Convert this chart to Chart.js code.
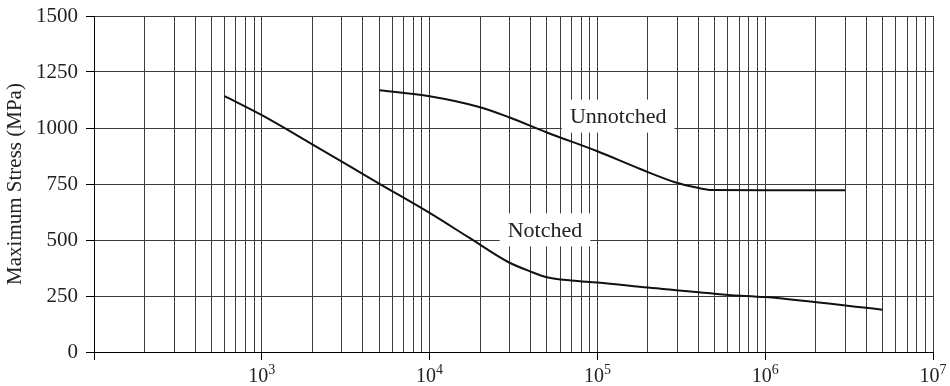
<!DOCTYPE html>
<html>
<head>
<meta charset="utf-8">
<script src="https://cdn.jsdelivr.net/npm/chart.js@4"></script>
<style>
  body { margin: 0; background: #fff; }
  #wrap { width: 950px; height: 386px; }
</style>
</head>
<body>
<div id="wrap"><canvas id="fatigueChart" width="950" height="386"></canvas></div>
<script>
// --- data ---
const notchedCycles = [600, 1000, 2000, 5000, 1e4, 1.74e4, 2.9e4, 4e4, 5e4, 7e4, 1e5, 2e5, 6e5, 1e6, 5e6];
const notchedStress = [1142, 1057, 927, 752, 621, 508, 404, 359, 334, 319, 310, 288, 255, 245, 189];

const unnotchedCycles = [5000, 1e4, 2e4, 3e4, 5e4, 1e5, 1.8e5, 2.9e5, 3.9e5, 4.8e5, 1e6, 3e6];
const unnotchedStress = [1169, 1142, 1093, 1047, 980, 896, 817, 758, 734, 723, 722, 722];

const xDecades = [100, 1000, 1e4, 1e5, 1e6, 1e7];
const xLabelled = [1000, 1e4, 1e5, 1e6, 1e7];

const curveLabels = [
    { text: 'Unnotched', x: 1.33e5, y: 1053 },
    { text: 'Notched', x: 4.87e4, y: 545 }
];

// all log grid lines: 1..9 x 10^n
const xGridValues = [];
for (let d = 0; d < xDecades.length - 1; d++) {
    for (let m = 1; m < 10; m++) xGridValues.push(xDecades[d] * m);
}
xGridValues.push(1e7);

const isDecade = v => xDecades.some(d => Math.abs(d - v) < 1e-6 * d);

const serif = '"Liberation Serif", "DejaVu Serif", serif';
const gridColor = '#3c3c3c';
const textColor = '#222';

// white boxed labels on the curves
const curveLabelPlugin = {
    id: 'curveLabels',
    beforeDatasetsDraw(chart) {
        const c = chart.ctx;
        const xs = chart.scales.x, ys = chart.scales.y;
        c.save();
        c.font = '22px ' + serif;
        c.textAlign = 'center';
        c.textBaseline = 'middle';
        curveLabels.forEach(l => {
            const px = xs.getPixelForValue(l.x);
            const py = ys.getPixelForValue(l.y);
            const w = c.measureText(l.text).width + 16;
            const h = 33;
            c.fillStyle = '#fff';
            c.fillRect(px - w / 2, py - h / 2, w, h);
            c.fillStyle = textColor;
            c.fillText(l.text, px, py + 1);
        });
        c.restore();
    },
    // powers of ten with a raised exponent under the x axis
    afterDraw(chart) {
        const c = chart.ctx;
        const xs = chart.scales.x;
        const base = chart.chartArea.bottom + 30;
        c.save();
        c.fillStyle = textColor;
        c.textBaseline = 'alphabetic';
        c.textAlign = 'left';
        xLabelled.forEach(v => {
            const px = xs.getPixelForValue(v);
            const exp = String(Math.round(Math.log10(v)));
            c.font = '20px ' + serif;
            const w1 = c.measureText('10').width;
            c.font = '14px ' + serif;
            const w2 = c.measureText(exp).width;
            const left = px - (w1 + w2) / 2;
            c.font = '20px ' + serif;
            c.fillText('10', left, base);
            c.font = '14px ' + serif;
            c.fillText(exp, left + w1, base - 8);
        });
        c.restore();
    }
};

const ctx = document.getElementById('fatigueChart').getContext('2d');
const chart = new Chart(ctx, {
    type: 'line',
    data: {
        datasets: [
            {
                label: 'Notched',
                data: notchedCycles.map((x, i) => ({ x, y: notchedStress[i] })),
                borderColor: '#111',
                borderWidth: 2,
                pointRadius: 0,
                cubicInterpolationMode: 'monotone',
                fill: false
            },
            {
                label: 'Unnotched',
                data: unnotchedCycles.map((x, i) => ({ x, y: unnotchedStress[i] })),
                borderColor: '#111',
                borderWidth: 2,
                pointRadius: 0,
                cubicInterpolationMode: 'monotone',
                fill: false
            }
        ]
    },
    options: {
        responsive: false,
        animation: false,
        devicePixelRatio: 1,
        layout: { padding: { top: 16, right: 17, left: 0, bottom: 0 } },
        plugins: {
            legend: { display: false },
            tooltip: { enabled: false }
        },
        scales: {
            x: {
                type: 'logarithmic',
                min: 100,
                max: 1e7,
                afterBuildTicks: scale => {
                    scale.ticks = xGridValues.map(v => ({ value: v, major: isDecade(v) }));
                },
                afterFit: scale => { scale.height = 34; },
                grid: {
                    color: gridColor,
                    lineWidth: 1,
                    tickLength: 8,
                    tickColor: c => (c.tick && isDecade(c.tick.value)) ? '#000' : 'rgba(0,0,0,0)'
                },
                border: { color: '#000', width: 1 },
                ticks: {
                    autoSkip: false,
                    maxRotation: 0,
                    minRotation: 0,
                    callback: () => ''
                }
            },
            y: {
                min: 0,
                max: 1500,
                afterFit: scale => {
                    scale.width = 94;
                    scale.paddingTop = 8;
                    scale.paddingBottom = 8;
                },
                grid: {
                    color: gridColor,
                    lineWidth: 1,
                    tickLength: 8,
                    tickColor: '#000'
                },
                border: { color: '#000', width: 1 },
                ticks: {
                    stepSize: 250,
                    padding: 8,
                    color: textColor,
                    font: { family: serif, size: 21 },
                    callback: v => String(v)
                },
                title: {
                    display: true,
                    text: 'Maximum Stress (MPa)',
                    color: textColor,
                    font: { family: serif, size: 21 },
                    padding: { top: 3, bottom: 0 }
                }
            }
        }
    },
    plugins: [curveLabelPlugin]
});
</script>
</body>
</html>
